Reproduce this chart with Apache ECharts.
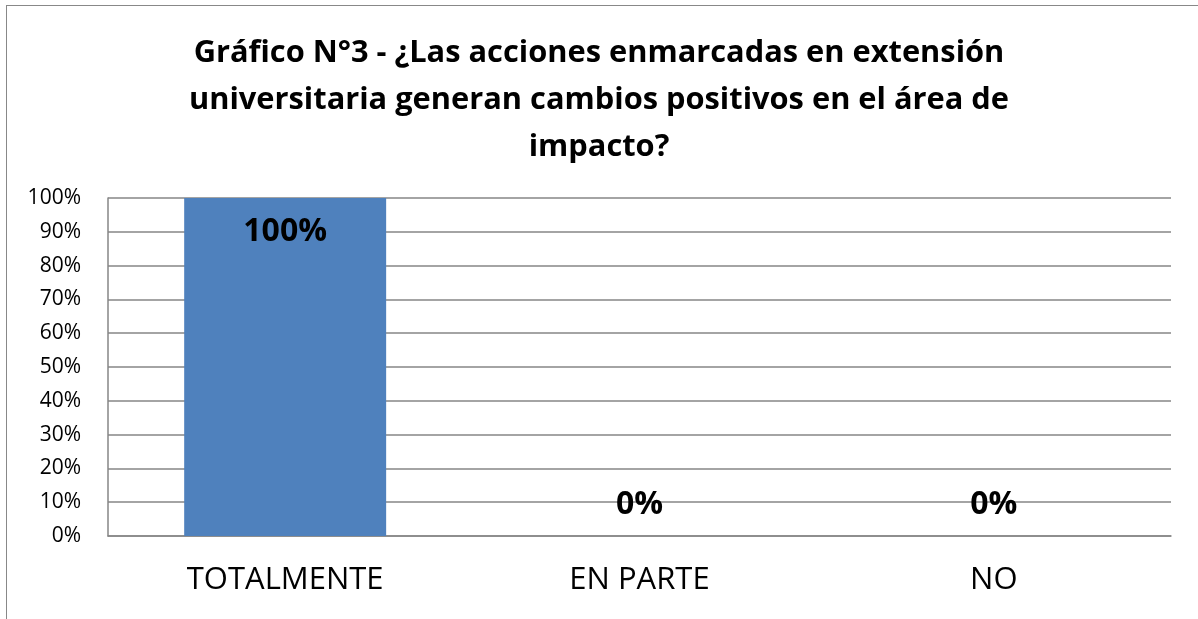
<!DOCTYPE html>
<html>
<head>
<meta charset="utf-8">
<script src="https://cdn.jsdelivr.net/npm/echarts@6/dist/echarts.min.js"></script>
<style>
  html, body { margin: 0; padding: 0; background: #fff; }
  #main { width: 1198px; height: 619px; }
  #frame { position: absolute; left: 6px; top: 5px; width: 1200px; height: 700px;
           border-left: 1px solid #888; border-top: 1px solid #888; pointer-events: none; }
</style>
</head>
<body>
<div id="main"></div>
<div id="frame"></div>
<script>
var titleText = 'Gráfico N°3 - ¿Las acciones enmarcadas en extensión\nuniversitaria generan cambios positivos en el área de\nimpacto?';
var categories = ['TOTALMENTE', 'EN PARTE', 'NO'];
var values = [100, 0, 0];

var myChart = echarts.init(document.getElementById('main'));
myChart.setOption({
  animation: false,
  textStyle: { fontFamily: 'Open Sans' },
  title: {
    text: titleText,
    left: 'center',
    top: 25,
    textStyle: { fontSize: 30.8, fontWeight: 'bold', color: '#000', lineHeight: 47, fontFamily: 'Open Sans' }
  },
  grid: { left: 108, right: 27, top: 198, bottom: 83 },
  xAxis: {
    type: 'category',
    data: categories,
    axisLine: { lineStyle: { color: '#868686', width: 1.5 } },
    axisTick: { show: false },
    axisLabel: { color: '#000', fontSize: 31, margin: 29 }
  },
  yAxis: {
    type: 'value',
    min: 0, max: 100, interval: 10,
    axisLine: { show: true, lineStyle: { color: '#868686', width: 1.5 } },
    axisTick: { show: false },
    splitLine: { lineStyle: { color: '#868686', width: 1.5 } },
    axisLabel: { color: '#000', fontSize: 21, margin: 27, formatter: '{value}%' }
  },
  series: [{
    type: 'bar',
    barWidth: '57%',
    itemStyle: { color: '#4F81BD' },
    data: values.map(function (v) {
      return {
        value: v,
        label: v > 0
          ? { show: true, position: 'insideTop', distance: 18 }
          : { show: true, position: 'top', distance: 15 }
      };
    }),
    label: {
      show: true,
      formatter: '{c}%',
      fontSize: 32, fontWeight: 'bold', color: '#000'
    }
  }]
});
</script>
</body>
</html>
